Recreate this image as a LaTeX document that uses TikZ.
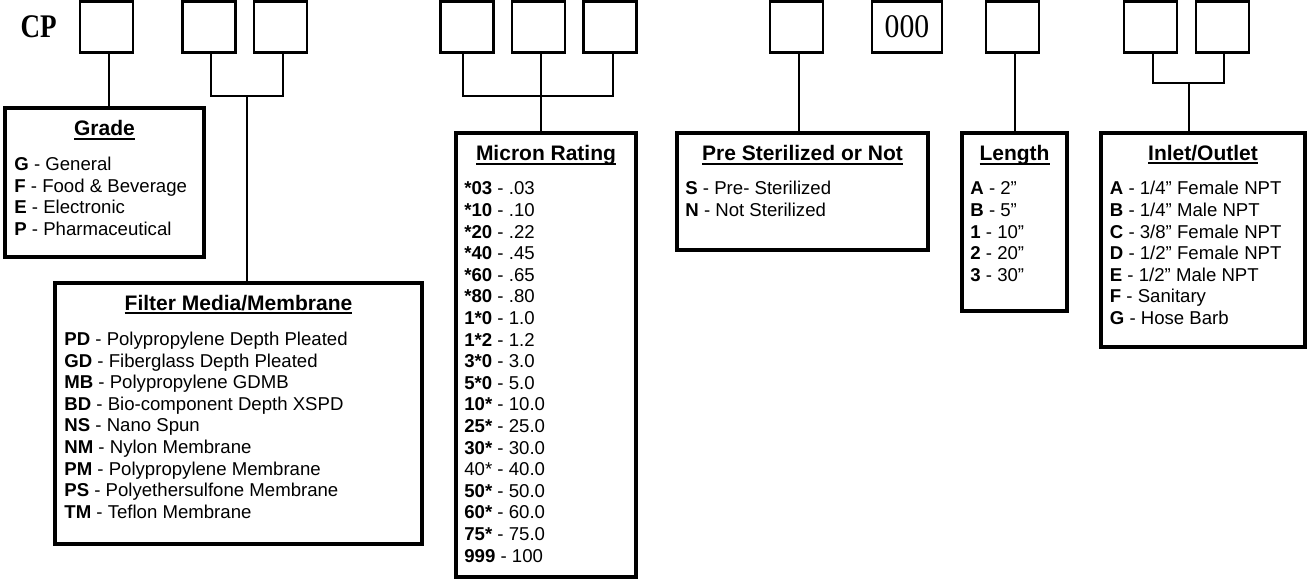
\documentclass[tikz,border=0pt]{standalone}
\usepackage{fontspec}
\usepackage{graphicx}
\setmainfont{Liberation Sans}
\newfontfamily\serifcp{Liberation Serif}
\usetikzlibrary{calc}
\newcommand{\hdr}[1]{\setbox0\hbox{#1}\rlap{\usebox0}\rule[-4pt]{\wd0}{2pt}}
\begin{document}
\begin{tikzpicture}[x=1pt,y=-1pt,
  cell/.style={draw, line width=2.7pt, minimum width=53pt, minimum height=51.3pt, inner sep=0pt},
  panel/.style={draw, line width=3.6pt, inner sep=0pt},
  wire/.style={line width=2pt},
  head/.style={anchor=base, inner sep=0pt, font=\fontsize{21}{25}\selectfont\bfseries},
  items/.style={anchor=base west, inner sep=0pt, font=\fontsize{18.6}{21.6}\selectfont},
  serifbig/.style={inner sep=0pt, font=\serifcp\fontsize{33}{36}\selectfont}]
\useasboundingbox (0,0) rectangle (1307,579);

% code label
\node[serifbig, anchor=base] (cp) at (38.7,37.3) {\scalebox{0.82}[1]{\bfseries CP}};

% top cells
\node[cell] (c1) at (106.5,27) {};
\node[cell] (c2) at (209,27) {};
\node[cell] (c3) at (280.5,27) {};
\node[cell] (c4) at (467,27) {};
\node[cell] (c5) at (538.5,27) {};
\node[cell] (c6) at (610,27) {};
\node[cell] (c7) at (796.5,27) {};
\node[cell, minimum width=70pt, font=\serifcp\fontsize{33}{36}\selectfont] (c8) at (907,27) {\scalebox{0.9}[1]{000}};
\node[cell] (c9) at (1012.5,27) {};
\node[cell] (c10) at (1150.5,27) {};
\node[cell] (c11) at (1222.5,27) {};

% panels
\node[panel, minimum width=199pt, minimum height=149pt] (grade) at (104.5,182.5) {};
\node[panel, minimum width=367pt, minimum height=261pt] (filter) at (238.5,413.5) {};
\node[panel, minimum width=180pt, minimum height=444pt] (micron) at (546,355) {};
\node[panel, minimum width=251pt, minimum height=117pt] (pre) at (802.5,191.5) {};
\node[panel, minimum width=105pt, minimum height=178pt] (length) at (1014.5,222) {};
\node[panel, minimum width=204pt, minimum height=214pt] (inlet) at (1203,240) {};

% headings
\node[head] (gradeh) at ($(grade.north)+(0,29.5)$) {\hdr{Grade}};
\node[head] (filterh) at ($(filter.north)+(0,29)$) {\hdr{Filter Media/Membrane}};
\node[head] (micronh) at ($(micron.north)+(0,29.5)$) {\hdr{Micron Rating}};
\node[head] (preh) at ($(pre.north)+(0,29.5)$) {\hdr{Pre Sterilized or Not}};
\node[head] (lengthh) at ($(length.north)+(0,29.5)$) {\hdr{Length}};
\node[head] (inleth) at ($(inlet.north)+(0,29)$) {\hdr{Inlet/Outlet}};

% item lists
\node[items] (gradet) at ($(grade.north west)+(11,64.5)$) {\begin{tabular}[t]{@{}l@{}}
\textbf{G} - General\\
\textbf{F} - Food \& Beverage\\
\textbf{E} - Electronic\\
\textbf{P} - Pharmaceutical\end{tabular}};

\node[items] (filtert) at ($(filter.north west)+(11,64.3)$) {\begin{tabular}[t]{@{}l@{}}
\textbf{PD} - Polypropylene Depth Pleated\\
\textbf{GD} - Fiberglass Depth Pleated\\
\textbf{MB} - Polypropylene GDMB\\
\textbf{BD} - Bio-component Depth XSPD\\
\textbf{NS} - Nano Spun\\
\textbf{NM} - Nylon Membrane\\
\textbf{PM} - Polypropylene Membrane\\
\textbf{PS} - Polyethersulfone Membrane\\
\textbf{TM} - Teflon Membrane\end{tabular}};

\node[items] (micront) at ($(micron.north west)+(10,63.7)$) {\begin{tabular}[t]{@{}l@{}}
\textbf{*03} - .03\\
\textbf{*10} - .10\\
\textbf{*20} - .22\\
\textbf{*40} - .45\\
\textbf{*60} - .65\\
\textbf{*80} - .80\\
\textbf{1*0} - 1.0\\
\textbf{1*2} - 1.2\\
\textbf{3*0} - 3.0\\
\textbf{5*0} - 5.0\\
\textbf{10*} - 10.0\\
\textbf{25*} - 25.0\\
\textbf{30*} - 30.0\\
40* - 40.0\\
\textbf{50*} - 50.0\\
\textbf{60*} - 60.0\\
\textbf{75*} - 75.0\\
\textbf{999} - 100\end{tabular}};

\node[items] (pret) at ($(pre.north west)+(10,63.7)$) {\begin{tabular}[t]{@{}l@{}}
\textbf{S} - Pre- Sterilized\\
\textbf{N} - Not Sterilized\end{tabular}};

\node[items] (lengtht) at ($(length.north west)+(10,63.7)$) {\begin{tabular}[t]{@{}l@{}}
\textbf{A} - 2”\\
\textbf{B} - 5”\\
\textbf{1} - 10”\\
\textbf{2} - 20”\\
\textbf{3} - 30”\end{tabular}};

\node[items] (inlett) at ($(inlet.north west)+(10.5,63.7)$) {\begin{tabular}[t]{@{}l@{}}
\textbf{A} - 1/4” Female NPT\\
\textbf{B} - 1/4” Male NPT\\
\textbf{C} - 3/8” Female NPT\\
\textbf{D} - 1/2” Female NPT\\
\textbf{E} - 1/2” Male NPT\\
\textbf{F} - Sanitary\\
\textbf{G} - Hose Barb\end{tabular}};

% connectors
\draw[wire] ([xshift=2.5pt]c1.south) -- ([xshift=2.5pt]c1.south |- grade.north);

\draw[wire] ([xshift=1.7pt]c2.south) -- ++(0,42) -| ([xshift=2.8pt]c3.south);
\coordinate (fm) at ($([xshift=1.7pt]c2.south)!0.5!([xshift=2.8pt]c3.south)+(0,42)$);
\draw[wire] (fm) -- (fm |- filter.north);

\draw[wire] ([xshift=-4.3pt]c4.south) -- ++(0,42) -| ([xshift=2.7pt]c6.south);
\draw[wire] ([xshift=2.2pt]c5.south) -- ([xshift=2.2pt]c5.south |- micron.north);

\draw[wire] ([xshift=2.5pt]c7.south) -- ([xshift=2.5pt]c7.south |- pre.north);

\draw[wire] ([xshift=2.5pt]c9.south) -- ([xshift=2.5pt]c9.south |- length.north);

\draw[wire] ([xshift=2.2pt]c10.south) -- ++(0,29.4) -| ([xshift=1.8pt]c11.south);
\coordinate (io) at ($([xshift=2.2pt]c10.south)!0.5!([xshift=1.8pt]c11.south)+(0,29.4)$);
\draw[wire] (io) -- (io |- inlet.north);
\end{tikzpicture}
\end{document}
